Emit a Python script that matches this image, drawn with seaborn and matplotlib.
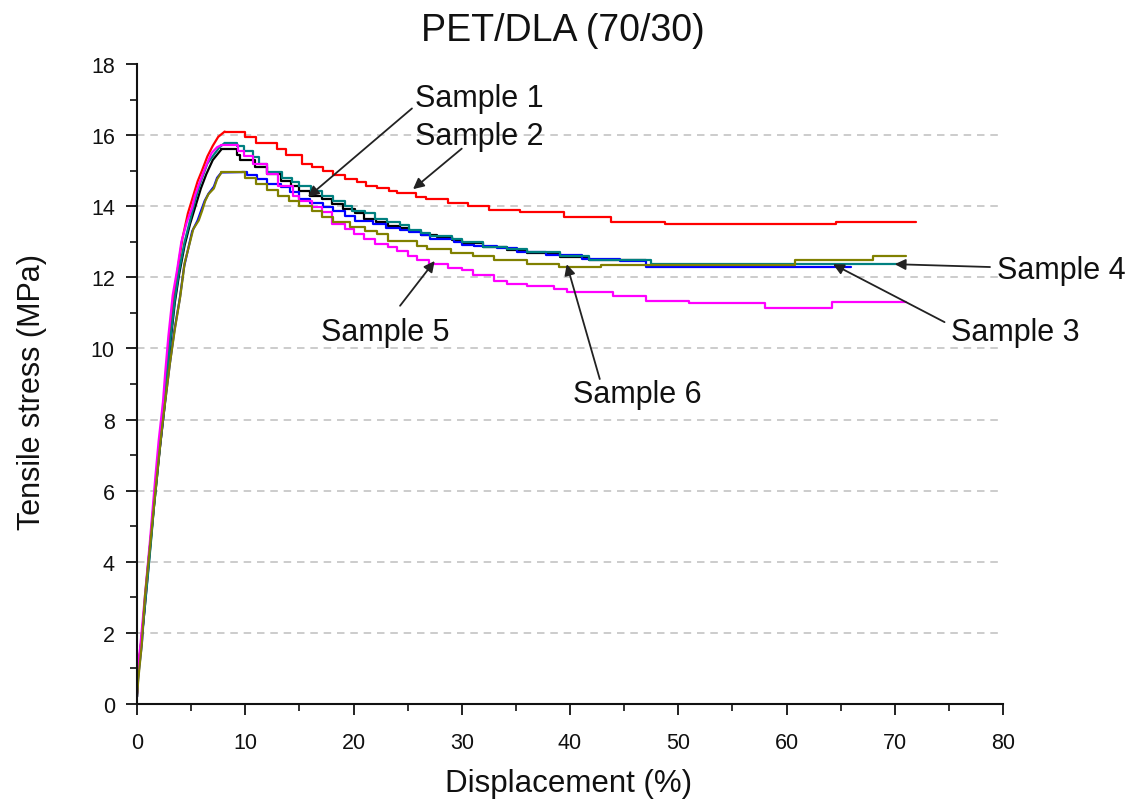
import matplotlib
matplotlib.use("Agg")
import matplotlib.pyplot as plt
import seaborn as sns
import pandas as pd
from matplotlib.ticker import MultipleLocator

# ---- data: (displacement %, tensile stress MPa) readings per specimen ----
SAMPLE_NAMES = ["Sample 1", "Sample 2", "Sample 3", "Sample 4", "Sample 5", "Sample 6"]
SAMPLE_COLORS = ["#000000", "#ff0000", "#0000ff", "#008080", "#ff00ff", "#808000"]

SAMPLE1 = [(0, 0.2), (0.1, 1.0), (0.3, 1.5), (0.65, 2.5), (0.95, 3.5), (1.25, 4.5),
           (1.55, 5.5), (1.85, 6.4), (2.15, 7.3), (2.55, 8.4), (2.8, 9.2), (3.1, 10.2),
           (3.5, 11.3), (3.9, 12.1), (4.4, 12.9), (4.9, 13.5), (5.4, 14.0), (5.9, 14.5),
           (6.4, 14.9), (7.0, 15.3), (7.4, 15.45), (7.8, 15.6), (9.2, 15.45), (9.5, 15.3),
           (10.9, 15.1), (12.0, 14.9), (13.3, 14.7), (14.2, 14.57), (15.0, 14.43),
           (16.0, 14.29), (17.1, 14.2), (18.0, 14.06), (19.0, 13.92), (20.1, 13.8),
           (21.0, 13.64), (22.1, 13.55), (23.2, 13.45), (24.3, 13.38), (25.1, 13.3),
           (26.2, 13.2), (27.7, 13.13), (29.1, 13.04), (30.0, 12.96), (32.0, 12.84),
           (34.2, 12.76), (36.0, 12.68), (39.1, 12.58), (41.8, 12.48), (47.0, 12.48)]

SAMPLE2 = [(0, 0.3), (0.15, 1.1), (0.35, 1.6), (0.65, 2.6), (0.95, 3.6), (1.25, 4.6),
           (1.5, 5.5), (1.8, 6.4), (2.1, 7.4), (2.5, 8.5), (2.7, 9.3), (3.0, 10.35),
           (3.4, 11.5), (3.8, 12.3), (4.2, 13.1), (4.7, 13.8), (5.2, 14.3), (5.6, 14.7),
           (6.0, 15.0), (6.5, 15.4), (7.0, 15.7), (7.5, 15.95), (8.1, 16.1), (10.0, 15.94),
           (11.0, 15.77), (12.9, 15.6), (13.8, 15.44), (15.2, 15.2), (16.2, 15.1),
           (17.2, 15.0), (18.1, 14.87), (19.2, 14.76), (20.3, 14.68), (21.2, 14.57),
           (22.2, 14.5), (23.3, 14.43), (24.0, 14.38), (25.8, 14.27), (26.7, 14.2),
           (28.7, 14.1), (30.6, 14.0), (32.5, 13.9), (35.4, 13.83), (39.4, 13.7),
           (43.8, 13.56), (48.8, 13.5), (64.6, 13.56), (72.0, 13.56)]

SAMPLE3 = [(0, 0.2), (0.12, 0.8), (0.45, 1.7), (0.75, 3.0), (1.05, 4.0), (1.35, 4.9),
           (1.65, 5.9), (1.95, 6.8), (2.3, 7.7), (2.6, 8.5), (3.0, 9.5), (3.45, 10.5),
           (3.95, 11.4), (4.35, 12.3), (5.1, 13.3), (5.6, 13.6), (5.95, 13.9), (6.25, 14.15),
           (6.6, 14.35), (7.1, 14.55), (7.4, 14.8), (7.8, 14.95), (9.7, 14.96), (10.2, 14.87),
           (11.1, 14.76), (12.0, 14.62), (13.3, 14.53), (14.1, 14.4), (15.0, 14.2),
           (16.0, 14.1), (17.2, 13.97), (18.1, 13.87), (19.2, 13.72), (20.1, 13.58),
           (21.8, 13.5), (23.0, 13.38), (24.3, 13.33), (25.1, 13.27), (26.2, 13.19),
           (27.1, 13.08), (29.3, 13.0), (30.0, 12.9), (31.1, 12.87), (33.3, 12.82),
           (35.1, 12.72), (37.8, 12.63), (41.1, 12.51), (44.6, 12.45), (47.0, 12.3),
           (66.0, 12.3)]

SAMPLE4 = [(0, 0.3), (0.15, 1.0), (0.35, 1.6), (0.65, 2.5), (1.0, 3.6), (1.3, 4.6),
           (1.55, 5.5), (1.85, 6.4), (2.15, 7.4), (2.55, 8.5), (2.75, 9.2), (3.1, 10.3),
           (3.5, 11.4), (3.9, 12.2), (4.4, 13.0), (4.9, 13.6), (5.4, 14.2), (5.9, 14.7),
           (6.5, 15.2), (7.1, 15.45), (7.6, 15.65), (8.1, 15.78), (9.2, 15.7), (9.9, 15.56),
           (10.7, 15.38), (11.3, 15.2), (12.0, 14.96), (13.4, 14.8), (14.3, 14.68),
           (15.0, 14.57), (16.1, 14.43), (17.1, 14.3), (18.1, 14.15), (19.2, 14.0),
           (19.9, 13.87), (21.1, 13.8), (22.0, 13.64), (23.1, 13.55), (24.3, 13.47),
           (25.1, 13.33), (26.2, 13.26), (27.1, 13.16), (29.1, 13.08), (30.0, 13.0),
           (32.0, 12.86), (34.2, 12.8), (36.0, 12.7), (39.1, 12.6), (41.8, 12.49),
           (47.5, 12.37), (70.7, 12.37)]

SAMPLE5 = [(0, 0.3), (0.1, 1.1), (0.3, 1.6), (0.6, 2.6), (0.9, 3.6), (1.2, 4.6),
           (1.45, 5.5), (1.7, 6.4), (2.0, 7.4), (2.4, 8.5), (2.6, 9.3), (2.9, 10.35),
           (3.3, 11.5), (3.7, 12.2), (4.1, 13.0), (4.6, 13.55), (5.1, 13.97), (5.35, 14.3),
           (5.7, 14.6), (6.2, 15.0), (6.65, 15.33), (6.9, 15.5), (7.4, 15.66), (7.8, 15.72),
           (9.3, 15.56), (9.9, 15.42), (10.7, 15.19), (12.0, 14.9), (13.0, 14.57),
           (14.4, 14.3), (15.0, 14.15), (16.2, 13.97), (17.1, 13.83), (18.0, 13.5),
           (19.2, 13.36), (20.0, 13.22), (21.0, 13.08), (22.0, 12.94), (23.2, 12.85),
           (24.0, 12.75), (25.0, 12.6), (25.9, 12.5), (27.0, 12.37), (28.7, 12.26),
           (30.0, 12.2), (31.0, 12.06), (33.0, 11.9), (34.2, 11.8), (36.0, 11.77),
           (38.5, 11.67), (39.7, 11.6), (44.0, 11.48), (47.0, 11.34), (51.0, 11.28),
           (58.0, 11.15), (64.2, 11.3), (71.0, 11.3)]

SAMPLE6 = [(0, 0.2), (0.12, 0.7), (0.43, 1.64), (0.74, 3.05), (1.05, 3.98), (1.36, 4.92),
           (1.66, 5.86), (1.97, 6.8), (2.3, 7.73), (2.6, 8.5), (3.05, 9.6), (3.5, 10.55),
           (4.0, 11.47), (4.4, 12.4), (5.2, 13.36), (5.7, 13.6), (6.0, 13.86), (6.3, 14.15),
           (6.6, 14.34), (7.1, 14.5), (7.4, 14.76), (7.8, 14.95), (10.0, 14.8), (11.0, 14.62),
           (12.0, 14.45), (13.0, 14.3), (14.0, 14.15), (15.0, 14.0), (16.2, 13.87),
           (17.1, 13.7), (18.1, 13.56), (19.7, 13.42), (21.1, 13.3), (22.2, 13.22),
           (23.2, 13.03), (25.9, 12.89), (26.8, 12.8), (29.0, 12.68), (31.0, 12.6),
           (33.0, 12.5), (36.0, 12.37), (39.0, 12.3), (42.9, 12.36), (60.8, 12.48),
           (68.0, 12.6), (71.0, 12.6)]

# label text position, arrow tail and arrow head (data coordinates)
LABEL_TEXT_XY = [(31.6, 17.04), (31.6, 15.97), (81.1, 10.46), (85.4, 12.2), (22.9, 10.46), (46.2, 8.72)]
ARROW_TAIL = [(25.4, 16.75), (30.0, 15.62), (74.6, 10.74), (78.8, 12.29), (24.3, 11.2), (42.75, 9.14)]
ARROW_HEAD = [(15.8, 14.26), (25.5, 14.48), (64.3, 12.37), (70.0, 12.37), (27.5, 12.46), (39.7, 12.37)]

X_TICKS = list(range(0, 81, 10))
Y_TICKS = list(range(0, 19, 2))

# ---- long-form tables: loading branch (up to peak) and post-yield branch ----
rise_rows, tail_rows = [], []
for name, pts in zip(SAMPLE_NAMES, [SAMPLE1, SAMPLE2, SAMPLE3, SAMPLE4, SAMPLE5, SAMPLE6]):
    peak = max(range(len(pts)), key=lambda i: pts[i][1])
    for x, y in pts[:peak + 1]:
        rise_rows.append({"sample": name, "disp": x, "stress": y})
    for x, y in pts[peak:]:
        tail_rows.append({"sample": name, "disp": x, "stress": y})
rise_df = pd.DataFrame(rise_rows)
tail_df = pd.DataFrame(tail_rows)

sns.set_theme(style="ticks")
plt.rcParams["font.family"] = ["Liberation Sans", "DejaVu Sans"]

fig = plt.figure(figsize=(11.35, 8.03), dpi=100)
ax = fig.add_axes([137 / 1135, 98 / 803, 866 / 1135, 640 / 803])

# dashed horizontal guides
for v in Y_TICKS[1:-1]:
    ax.axhline(v, color="#c4c4c4", lw=1.2, ls=(0, (4.5, 3.5)), zorder=0)

common = dict(x="disp", y="stress", hue="sample", hue_order=SAMPLE_NAMES,
              palette=SAMPLE_COLORS, estimator=None, sort=False, lw=1.6,
              legend=False, ax=ax)
sns.lineplot(data=rise_df, **common)
sns.lineplot(data=tail_df, drawstyle="steps-post", **common)

for name, txt_xy, tail, head in zip(SAMPLE_NAMES, LABEL_TEXT_XY, ARROW_TAIL, ARROW_HEAD):
    ax.text(txt_xy[0], txt_xy[1], name, ha="center", va="center", fontsize=22,
            color="#111111", clip_on=False)
    ax.annotate("", xy=head, xytext=tail,
                arrowprops=dict(arrowstyle="-|>", color="#222222", lw=1.3,
                                mutation_scale=16, shrinkA=0, shrinkB=0),
                annotation_clip=False)

ax.set_xlim(0, 80)
ax.set_ylim(0, 18)
ax.set_xticks(X_TICKS)
ax.set_yticks(Y_TICKS)
ax.xaxis.set_minor_locator(MultipleLocator(5))
ax.yaxis.set_minor_locator(MultipleLocator(1))
ax.tick_params(axis="both", which="major", direction="out", length=8, width=1.3,
               labelsize=15.5, color="#111111", labelcolor="#111111")
ax.tick_params(axis="both", which="minor", direction="out", length=5, width=1.2,
               color="#111111")
ax.tick_params(axis="x", which="major", pad=12)
ax.tick_params(axis="y", which="major", pad=8)

for side in ["top", "right"]:
    ax.spines[side].set_visible(False)
for side in ["left", "bottom"]:
    ax.spines[side].set_linewidth(1.5)
    ax.spines[side].set_color("#111111")

ax.set_xlabel("Displacement (%)", fontsize=22.5, color="#111111")
ax.set_ylabel("Tensile stress (MPa)", fontsize=22, color="#111111")
ax.xaxis.set_label_coords(0.498, -0.1)
ax.yaxis.set_label_coords(-0.104, 0.489)

fig.text(563 / 1135, 1 - 31 / 803, "PET/DLA (70/30)", ha="center", va="center",
         fontsize=27, color="#111111")

fig.savefig("out.png", dpi=100)
